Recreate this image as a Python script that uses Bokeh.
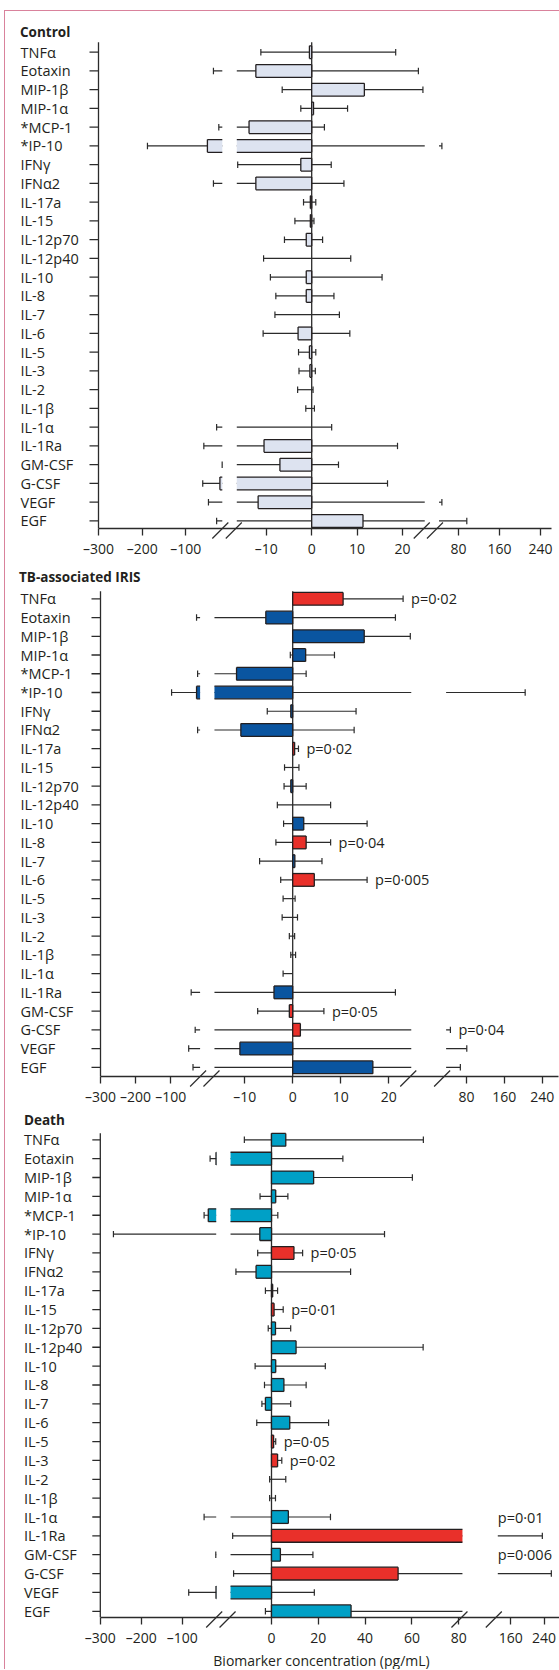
from bokeh.plotting import figure
from bokeh.layouts import column
from bokeh.models import Range1d, FixedTicker
from bokeh.core.properties import value
from bokeh.embed import file_html
from bokeh.resources import INLINE

# ---------------- data ----------------
biomarkers = ["TNFα", "Eotaxin", "MIP-1β", "MIP-1α", "*MCP-1", "*IP-10", "IFNγ", "IFNα2",
              "IL-17a", "IL-15", "IL-12p70", "IL-12p40", "IL-10", "IL-8", "IL-7", "IL-6",
              "IL-5", "IL-3", "IL-2", "IL-1β", "IL-1α", "IL-1Ra", "GM-CSF", "G-CSF", "VEGF", "EGF"]

control_value = [-0.5, -12.3, 11.6, 0.4, -13.8, -50.6, -2.4, -12.3, -0.3, -0.3, -1.2, 0.0, -1.2,
                 -1.2, 0.0, -3.0, -0.5, -0.4, 0.0, 0.0, 0.0, -10.5, -7.0, -22.0, -11.8, 11.3]
control_low = [-11.2, -36.8, -6.5, -2.4, -24.5, -187.9, -16.3, -36.8, -1.8, -3.7, -6.0, -10.6, -9.1,
               -7.9, -8.1, -10.7, -2.9, -2.8, -3.1, -1.3, -29.5, -58.8, -16.8, -61.3, -48.2, -29.5]
control_high = [18.5, 23.5, 24.5, 7.9, 2.8, 47.4, 4.3, 7.1, 0.9, 0.5, 2.4, 8.6, 15.5,
                4.9, 6.1, 8.4, 0.9, 0.8, 0.3, 0.6, 4.4, 18.9, 5.9, 16.7, 47.4, 96.0]

iris_value = [10.5, -5.6, 14.9, 2.7, -11.7, -26.4, -0.4, -10.8, 0.4, 0.0, -0.4, 0.0, 2.3,
              2.8, 0.45, 4.5, 0.0, 0.0, 0.0, 0.0, 0.0, -3.9, -0.7, 1.6, -11.0, 16.7]
iris_low = [0.0, -26.4, 0.0, -0.5, -23.4, -97.5, -5.3, -23.4, 0.0, -1.7, -1.8, -3.2, -1.9,
            -3.5, -6.9, -2.5, -2.0, -2.2, -0.7, -0.4, -2.0, -41.7, -7.3, -30.3, -48.8, -36.5]
iris_high = [23.0, 21.4, 24.5, 8.7, 2.8, 204.0, 13.2, 12.8, 1.2, 1.3, 2.8, 7.9, 15.5,
             7.9, 6.1, 15.5, 0.5, 1.0, 0.4, 0.6, 0.0, 21.4, 6.5, 46.0, 80.6, 67.0]
iris_p_marker = ["TNFα", "IL-17a", "IL-8", "IL-6", "GM-CSF", "G-CSF"]
iris_p_text = ["p=0·02", "p=0·02", "p=0·04", "p=0·005", "p=0·05", "p=0·04"]

death_value = [6.1, -18.0, 18.0, 1.8, -36.8, -5.0, 9.6, -6.6, 0.5, 1.1, 1.7, 10.5, 1.8,
               5.3, -2.6, 7.8, 0.9, 2.6, 0.0, 0.0, 7.2, 110.0, 3.8, 54.1, -18.0, 34.0]
death_low = [-11.6, -32.4, 0.0, -4.9, -47.0, -268.0, -5.9, -15.2, -2.6, 0.0, -1.4, 0.0, -7.0,
             -3.0, -4.1, -6.3, 0.0, 0.0, -0.8, -0.8, -47.0, -16.6, -18.5, -16.2, -84.5, -2.6]
death_high = [64.9, 30.5, 60.2, 7.0, 2.7, 48.3, 13.3, 33.8, 2.6, 5.0, 8.2, 64.8, 23.0,
              14.8, 8.2, 24.4, 1.8, 4.4, 6.1, 1.7, 25.2, 236.0, 17.7, 257.6, 18.3, 100.0]
death_p_marker = ["IFNγ", "IL-15", "IL-5", "IL-3", "IL-1Ra", "G-CSF"]
death_p_text = ["p=0·05", "p=0·01", "p=0·05", "p=0·02", "p=0·01", "p=0·006"]

ticks_left = [-300, -200, -100]
ticks_mid = [-10, 0, 10, 20]
ticks_mid_death = [0, 20, 40, 60, 80]
ticks_right = [80, 160, 240]
ticks_right_death = [160, 240]
x_title = "Biomarker concentration (pg/mL)"

# ---------------- style / layout ----------------
FONT = "Open Sans"
TXT = "#231f20"
LINE = "#2b2b2b"
EDGE = "#231f20"
C_CONTROL = "#dde3f0"
C_IRIS = "#0a55a0"
C_DEATH = "#00a0c6"
C_SIG = "#e9302a"
OX = 8
FW = 551
BH = 0.68
CAP = 0.17

LAYOUTS = [
    dict(title="Control", frame_top=11, frame_h=517, border=34, row0=51.7, step=18.75,
         title_y=31, axis_top=41.7, yaxis_x=98.0, tick_len=9, label_x=20, title_x=19.5,
         left=(-300, 98.0, -16.5, 221.8), mid=(0, 311.2, 20, 402.0), mid_dom=(-16.5, 24.9),
         right=(80, 458.1, 240, 540.1), right_dom=(41.7, 262), axis_end=550.8),
    dict(title="TB-associated IRIS", frame_top=562, frame_h=514, border=34, row0=598.3, step=18.74,
         title_y=576, axis_top=590.7, yaxis_x=100.0, tick_len=9, label_x=20, title_x=18.5,
         left=(-300, 100.0, -16.3, 199.6), mid=(0, 292.2, 20, 388.2), mid_dom=(-16.3, 24.7),
         right=(80, 466.0, 240, 541.7), right_dom=(36.9, 276), axis_end=558.0),
    dict(title="Death", frame_top=1110, frame_h=507, border=52, row0=1139.3, step=18.86,
         title_y=1119, axis_top=1132.7, yaxis_x=99.8, tick_len=8, label_x=23.5, title_x=23.5,
         left=(-300, 99.8, -17.5, 215.7), mid=(0, 271.0, 80, 458.2), mid_dom=(-17.5, 81.6),
         right=(160, 510.2, 240, 543.5), right_dom=(129, 278), axis_end=558.9,
         xtitle_x=321.0, xtitle_y=1659.5),
]


def lin_range(a, pa, b, pb):
    k = (pb - pa) / (b - a)
    return Range1d(start=a - (pa - OX) / k, end=a + (OX + FW - pa) / k)


def to_px(rng, v):
    return OX + (v - rng.start) / (rng.end - rng.start) * FW


def from_px(rng, px):
    return rng.start + (px - OX) / FW * (rng.end - rng.start)


def fmt(t):
    return ("\u2013" + str(abs(t))) if t < 0 else str(t)


def build_panel(L, values, low, high, p_marker, p_text, base_color, mticks, rticks, xlabel=None):
    left_r = lin_range(*L["left"])
    mid_r = lin_range(*L["mid"])
    right_r = lin_range(*L["right"])
    ft, fh = L["frame_top"], L["frame_h"]
    fb = ft + fh
    r0, st = L["row0"], L["step"]
    p = figure(frame_width=FW, frame_height=fh, x_range=mid_r,
               y_range=Range1d(start=(fb - r0) / st, end=(ft - r0) / st),
               y_axis_location=None, output_backend="svg", toolbar_location=None,
               min_border_left=0, min_border_right=0, min_border_top=0,
               min_border_bottom=L["border"], outline_line_color=None,
               background_fill_color="white", border_fill_color="white")
    p.extra_x_ranges = {"left": left_r, "right": right_r, "px": Range1d(start=OX, end=OX + FW)}
    p.extra_y_ranges = {"py": Range1d(start=fb, end=ft)}
    p.grid.visible = False

    segs = [("left", left_r, (-300.0, L["left"][2])),
            ("default", mid_r, L["mid_dom"]),
            ("right", right_r, L["right_dom"])]
    rows = list(range(len(biomarkers)))
    sig = set(biomarkers.index(m) for m in p_marker)
    colors = [C_SIG if i in sig else base_color for i in rows]

    # whiskers
    for name, rng, (d0, d1) in segs:
        wx0, wx1, wy, cx, cy0, cy1 = [], [], [], [], [], []
        for i in rows:
            a, b = max(low[i], d0), min(high[i], d1)
            if a < b:
                wx0.append(a); wx1.append(b); wy.append(i)
            for v in (low[i], high[i]):
                if v != 0 and d0 <= v <= d1:
                    cx.append(v); cy0.append(i - CAP); cy1.append(i + CAP)
        p.segment(x0=wx0, y0=wy, x1=wx1, y1=wy, x_range_name=name, line_color=LINE, line_width=1.2)
        p.segment(x0=cx, y0=cy0, x1=cx, y1=cy1, x_range_name=name, line_color=LINE, line_width=1.2)

    # zero line
    p.segment(x0=[0], y0=[L["axis_top"]], x1=[0], y1=[fb], y_range_name="py",
              line_color=LINE, line_width=1.3)

    # bars
    for name, rng, (d0, d1) in segs:
        bl, br, by, bc = [], [], [], []
        ex0, ey0, ex1, ey1 = [], [], [], []
        for i in rows:
            v = values[i]
            if v == 0:
                continue
            lo, hi = min(0, v), max(0, v)
            a, b = max(lo, d0), min(hi, d1)
            if a < b:
                bl.append(a); br.append(b); by.append(i); bc.append(colors[i])
                for yy in (i - BH / 2, i + BH / 2):
                    ex0.append(a); ex1.append(b); ey0.append(yy); ey1.append(yy)
            for e in (v, 0):
                if d0 <= e <= d1:
                    ex0.append(e); ex1.append(e); ey0.append(i - BH / 2); ey1.append(i + BH / 2)
        p.hbar(y=by, left=bl, right=br, height=BH, fill_color=bc, line_color=None, x_range_name=name)
        p.segment(x0=ex0, y0=ey0, x1=ex1, y1=ey1, x_range_name=name, line_color=EDGE, line_width=1.3)

    # y axis (left-aligned labels, as in the original)
    yx = L["yaxis_x"]
    p.segment(x0=[yx], y0=[L["axis_top"]], x1=[yx], y1=[fb], x_range_name="px", y_range_name="py",
              line_color=LINE, line_width=1.3)
    p.segment(x0=[yx - L["tick_len"]] * len(rows), y0=rows, x1=[yx] * len(rows), y1=rows,
              x_range_name="px", line_color=LINE, line_width=1.3)
    p.text(x=[L["label_x"]] * len(rows), y=rows, text=biomarkers, x_range_name="px",
           text_align="left", text_baseline="middle", text_font=value(FONT),
           text_font_size="14.5px", text_color=TXT)
    p.text(x=[L["title_x"]], y=[L["title_y"]], text=[L["title"]], x_range_name="px", y_range_name="py",
           text_align="left", text_baseline="middle", text_font=value(FONT),
           text_font_size="13.5px", text_font_style="bold", text_color=TXT)

    # p values
    lx, ly, lt = [], [], []
    for m, t in zip(p_marker, p_text):
        i = biomarkers.index(m)
        h = high[i]
        end_px = to_px(mid_r, L["mid_dom"][1])
        for name, rng, (d0, d1) in segs:
            if d0 <= h <= d1:
                end_px = to_px(rng, h)
        if end_px + 8 + 52 > OX + FW:
            lx.append(to_px(right_r, L["right_dom"][0])); ly.append(i - 1)
        else:
            lx.append(end_px + 8); ly.append(i)
        lt.append(t)
    p.text(x=lx, y=ly, text=lt, x_range_name="px", text_align="left", text_baseline="middle",
           text_font=value(FONT), text_font_size="14.5px", text_color=TXT)

    # x axis
    tick_u, overrides = [], {}
    for rng, ticks in ((left_r, ticks_left), (mid_r, mticks), (right_r, rticks)):
        for t in ticks:
            u = from_px(mid_r, to_px(rng, t))
            tick_u.append(u)
            overrides[u] = fmt(t)
    ax = p.xaxis[0]
    ax.ticker = FixedTicker(ticks=tick_u, minor_ticks=[])
    ax.major_label_overrides = overrides
    ax.bounds = (from_px(mid_r, yx), from_px(mid_r, L["axis_end"]))
    ax.axis_line_color = LINE
    ax.axis_line_width = 1.3
    ax.major_tick_line_color = LINE
    ax.major_tick_line_width = 1.3
    ax.major_tick_in = 0
    ax.major_tick_out = 7
    ax.minor_tick_line_color = None
    ax.major_label_standoff = 3
    ax.major_label_text_font = FONT
    ax.major_label_text_font_size = "14px"
    ax.major_label_text_color = TXT
    if xlabel:
        p.text(x=[L["xtitle_x"]], y=[L["xtitle_y"]], text=[xlabel], x_range_name="px",
               y_range_name="py", text_align="center", text_baseline="middle",
               text_font=value(FONT), text_font_size="14px", text_color=TXT, level="overlay")

    # axis break marks
    L1 = to_px(left_r, L["left"][2])
    M0 = to_px(mid_r, L["mid_dom"][0])
    M1 = to_px(mid_r, L["mid_dom"][1])
    R0 = to_px(right_r, L["right_dom"][0])
    bx = [L1 - 2, M0 - 3, M1 - 3, R0 - 4]
    ay = fb + 2
    p.segment(x0=[x - 8 for x in bx], y0=[ay + 8] * 4, x1=[x + 8 for x in bx], y1=[ay - 8] * 4,
              x_range_name="px", y_range_name="py", line_color=LINE, line_width=1.2, level="overlay")
    return p


p1 = build_panel(LAYOUTS[0], control_value, control_low, control_high, [], [], C_CONTROL,
                 ticks_mid, ticks_right)
p2 = build_panel(LAYOUTS[1], iris_value, iris_low, iris_high, iris_p_marker, iris_p_text, C_IRIS,
                 ticks_mid, ticks_right)
p3 = build_panel(LAYOUTS[2], death_value, death_low, death_high, death_p_marker, death_p_text, C_DEATH,
                 ticks_mid_death, ticks_right_death, xlabel=x_title)

layout = column(p1, p2, p3, spacing=0,
                styles={"margin-left": "4px", "margin-top": "10px",
                        "border-left": "1px solid #d9829c", "border-top": "1px solid #d9829c",
                        "padding-left": "3px"})

with open("out.html", "w") as f:
    f.write(file_html(layout, INLINE, title="Biomarker concentrations"))
